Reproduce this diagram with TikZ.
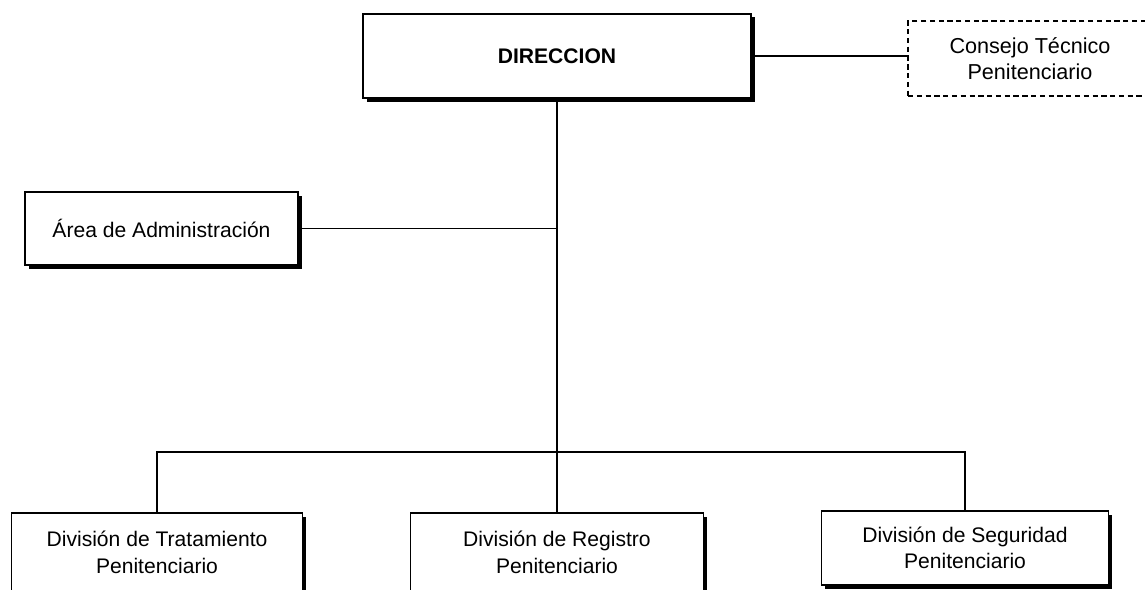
\documentclass[tikz,border=0pt]{standalone}
\usepackage{fontspec}
\setmainfont{Liberation Sans}
\usetikzlibrary{shadows}
\begin{document}
\begin{tikzpicture}

    \tikzset{
      caja/.style={
        draw,
        line width=0.9pt,
        fill=white,
        align=center,
        font=\fontsize{12}{15}\selectfont,
        drop shadow={shadow xshift=0.07cm, shadow yshift=-0.07cm, opacity=1, fill=black},
      },
      cajapunteada/.style={
        draw,
        densely dashed,
        line width=0.8pt,
        align=center,
        font=\fontsize{12.3}{15}\selectfont,
      },
      linea/.style={line width=0.9pt},
    }

	\useasboundingbox (0,0) rectangle (22.9,-11.78);
	\fill[white] (0,0) rectangle (22.9,-11.78);

	\node[caja,minimum width=7.76cm,minimum height=1.68cm] (dir) at (11.14,-1.12) {\textbf{DIRECCION}};
	\node[cajapunteada,minimum width=4.88cm,minimum height=1.5cm] (consejo) at (20.6,-1.17) {Consejo Técnico\\Penitenciario};
	\node[caja,minimum width=5.46cm,minimum height=1.46cm] (area) at (3.23,-4.57) {Área de Administración};
	\node[caja,minimum width=5.82cm,minimum height=1.58cm] (trat) at (3.14,-11.05) {División de Tratamiento\\Penitenciario};
	\node[caja,minimum width=5.86cm,minimum height=1.58cm] (regis) at (11.14,-11.05) {División de Registro\\Penitenciario};
	\node[caja,minimum width=5.74cm,minimum height=1.48cm] (segu) at (19.3,-10.96) {División de Seguridad\\Penitenciario};

	\coordinate (barra) at (0,-9.04);

	\draw[linea] (dir.east) -- (dir.east -| consejo.west);
	\draw[linea] (dir.south) -- (regis.north);
	\draw[linea] (area.east) -- (area.east -| dir.south);
	\draw[linea] (trat.north) -- (trat.north |- barra) -- (segu.north |- barra) -- (segu.north);

\end{tikzpicture}
\end{document}
